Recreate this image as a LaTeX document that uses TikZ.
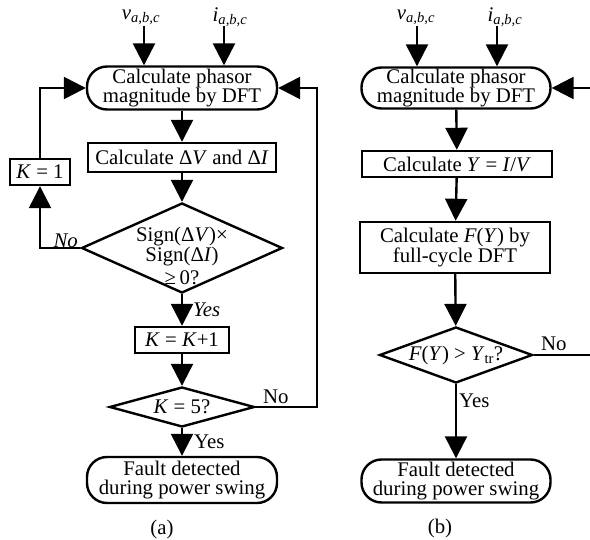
\documentclass[tikz,border=0pt]{standalone}
\usepackage{fontspec}
\setmainfont{Liberation Serif}
\usetikzlibrary{shapes.geometric,arrows.meta}
\begin{document}
\begin{tikzpicture}[x=1pt,y=-1pt,
  every node/.style={font=\fontsize{20.8}{19.8}\selectfont, inner sep=0pt},
  term/.style={draw, line width=2.4pt, rounded corners=20pt, minimum width=190pt, minimum height=43pt, align=center},
  proc/.style={draw, line width=2.4pt, minimum height=26pt, align=center},
  dia/.style={draw, diamond, line width=2.4pt},
  txt/.style={align=center},
  flow/.style={line width=2.4pt, -{Triangle[length=22pt,width=22pt]}},
  plain/.style={line width=2.4pt},
  ]
\useasboundingbox (0,0) rectangle (590,540);
\clip (0,0) rectangle (590,540);

% ---------- (a) ----------
\node (lv1) at (141,17) {\textit{v}\textsubscript{\textit{a,b,c}}};
\node (li1) at (230,17) {\textit{i}\textsubscript{\textit{a,b,c}}};
\coordinate (va) at (144,26);
\coordinate (ia) at (224,26);

\node[term] (t1) at (182,88) {Calculate phasor\\magnitude by DFT};
\node[proc, minimum width=188pt, minimum height=29pt] (b1) at (182,157.5) {Calculate Δ\textit{V} and Δ\textit{I}};
\node[dia, minimum width=201pt, minimum height=90pt] (d1) at (182,248) {};
\node[txt] (d1t) at (182,256) {Sign(Δ\textit{V})×\\Sign(Δ\textit{I})\\[4pt]≥\,0?};
\node[proc, minimum width=60pt, minimum height=26pt] (k1) at (40,172) {\textit{K} = 1};
\node[anchor=base east] (no1) at (78,248) {\textit{No}};
\node[proc, minimum width=94pt, minimum height=26pt] (b2) at (182,340) {\textit{K} = \textit{K}+1};
\node[anchor=west] (yes1) at (193,310) {\textit{Yes}};
\node[dia, minimum width=145pt, minimum height=40pt] (d2) at (182,407) {};
\node (d2t) at (182,407) {\textit{K} = 5?};
\node[anchor=base west] (no2) at (263,404) {No};
\node[anchor=west] (yes2) at (194,442) {Yes};
\node[term, minimum height=46pt] (t3) at (182,480) {Fault detected\\during power swing};
\node (capa) at (162,529) {(a)};
\coordinate (lr) at (317,0);

\draw[flow] (va) -- (va |- t1.north);
\draw[flow] (ia) -- (ia |- t1.north);
\draw[flow] (t1) -- (b1);
\draw[flow] (b1) -- (d1);
\draw[flow] (d1.west) -| (k1.south);
\draw[flow] (k1.north) |- (t1.west);
\draw[flow] (d1.south) -- (b2.north);
\draw[flow] (b2) -- (d2.north);
\draw[flow] (d2.south) -- (t3.north);
\draw[flow] (d2.east) -- (d2.east -| lr) |- (t1.east);

% ---------- (b) ----------
\node (lv2) at (416,17) {\textit{v}\textsubscript{\textit{a,b,c}}};
\node (li2) at (505,17) {\textit{i}\textsubscript{\textit{a,b,c}}};
\coordinate (vb) at (417,26);
\coordinate (ib) at (497,26);

\node[term, minimum width=189pt, minimum height=41pt] (t2) at (456,88) {Calculate phasor\\magnitude by DFT};
\node[proc, minimum width=190pt, minimum height=26pt] (b3) at (457,164) {Calculate \textit{Y} = \textit{I}/\textit{V}};
\node[proc, minimum width=190pt, minimum height=51pt] (b4) at (455,247.5) {Calculate \textit{F}(\textit{Y}) by\\full-cycle DFT};
\node[dia, minimum width=153pt, minimum height=56pt] (d3) at (456,355) {};
\node (d3t) at (456,355) {\textit{F}(\textit{Y}) > \textit{Y}\textsubscript{tr}?};
\node[anchor=base west] (no3) at (541,351) {No};
\node[anchor=west] (yes3) at (459,401) {Yes};
\node[term, minimum width=189pt, minimum height=43pt] (t4) at (456,481) {Fault detected\\during power swing};
\node (capb) at (440,528) {(b)};
\coordinate (rb) at (605,0);

\draw[flow] (vb) -- (vb |- t2.north);
\draw[flow] (ib) -- (ib |- t2.north);
\draw[flow] (t2) -- (b3);
\draw[flow] (b3) -- (b4);
\draw[flow] (b4) -- (d3);
\draw[flow] (d3.south) -- (t4.north);
\draw[flow] (d3.east) -- (d3.east -| rb) |- (t2.east);
\end{tikzpicture}
\end{document}
